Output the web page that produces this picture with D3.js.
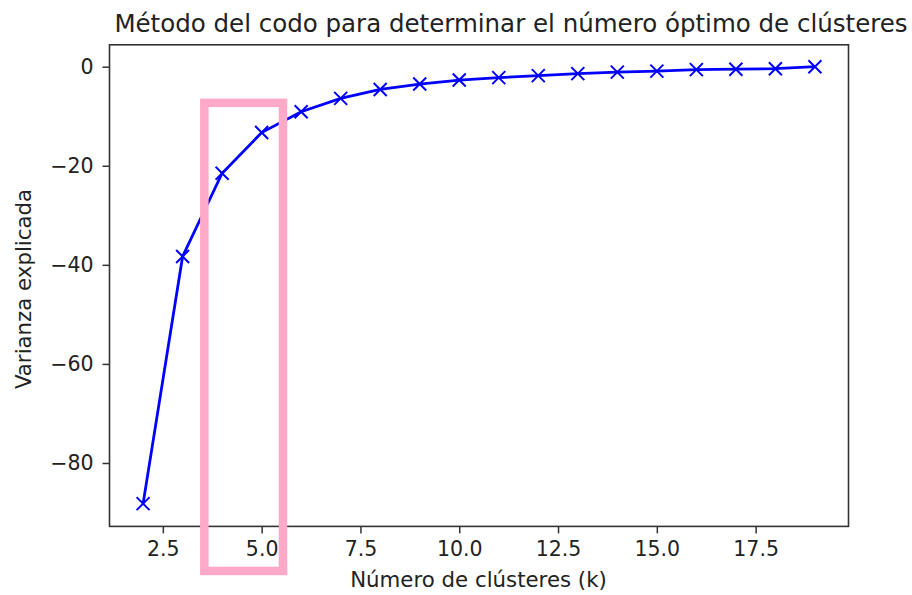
<!DOCTYPE html>
<html><head><meta charset="utf-8">
<script src="https://cdn.jsdelivr.net/npm/d3@7"></script>
<style>body{margin:0;background:#fff}svg{display:block}text{font-family:"DejaVu Sans",sans-serif;fill:#222}</style>
</head><body><svg id="c" width="912" height="595"></svg>
<script>
const ks = [2,3,4,5,6,7,8,9,10,11,12,13,14,15,16,17,18,19];
const varianza = [-88.2,-38.3,-21.5,-13.3,-9.1,-6.4,-4.6,-3.5,-2.7,-2.2,-1.8,-1.4,-1.1,-0.9,-0.6,-0.5,-0.4,0.0];
const xTicks = [2.5,5.0,7.5,10.0,12.5,15.0,17.5];
const yTicks = [0,-20,-40,-60,-80];
const titleText = "Método del codo para determinar el número óptimo de clústeres";
const xLabel = "Número de clústeres (k)";
const yLabel = "Varianza explicada";
const highlightK = [3.55, 5.54];
const highlightY = [-7.3, -101.8];

const svg = d3.select("#c");
const L=109.5,R=848.5,T=44.8,B=526.4;
const x = d3.scaleLinear().domain([1.15,19.85]).range([L,R]);
const y = d3.scaleLinear().domain([-92.8,4.42]).range([B,T]);

// axes
const gx = svg.append("g").attr("transform",`translate(0,${B})`)
  .call(d3.axisBottom(x).tickValues(xTicks).tickFormat(d3.format(".1f")).tickSize(7).tickPadding(8));
const gy = svg.append("g").attr("transform",`translate(${L},0)`)
  .call(d3.axisLeft(y).tickValues(yTicks).tickFormat(d=>d===0?"0":"\u2212"+Math.abs(d)).tickSize(7).tickPadding(9));
[gx,gy].forEach(g=>{
  g.select(".domain").remove();
  g.selectAll(".tick line").attr("stroke","#333").attr("stroke-width",1.5);
  g.selectAll(".tick text").style("font-size","20.5px").style("font-family","DejaVu Sans").attr("fill","#222");
});
svg.append("rect").attr("x",L).attr("y",T).attr("width",R-L).attr("height",B-T)
  .attr("fill","none").attr("stroke","#333").attr("stroke-width",1.6);

// line
const line = d3.line().x((d,i)=>x(ks[i])).y(d=>y(d));
svg.append("path").datum(varianza).attr("d",line).attr("fill","none")
  .attr("stroke","#0000ff").attr("stroke-width",2.8);
const m=6.5;
svg.append("g").selectAll("path").data(varianza).join("path")
  .attr("d",(d,i)=>{const cx=x(ks[i]),cy=y(d);return `M${cx-m},${cy-m}L${cx+m},${cy+m}M${cx-m},${cy+m}L${cx+m},${cy-m}`;})
  .attr("stroke","#0000ff").attr("stroke-width",2).attr("fill","none");

// highlight box
svg.append("rect").attr("x",x(highlightK[0])).attr("y",y(highlightY[0]))
  .attr("width",x(highlightK[1])-x(highlightK[0])).attr("height",y(highlightY[1])-y(highlightY[0]))
  .attr("fill","none").attr("stroke","#ffa9c8").attr("stroke-width",8.5);

// labels
svg.append("text").attr("x",511).attr("y",31.5).attr("text-anchor","middle").style("font-size","24.5px").text(titleText);
svg.append("text").attr("x",478.5).attr("y",587).attr("text-anchor","middle").style("font-size","21.3px").text(xLabel);
svg.append("text").attr("transform","translate(31,289) rotate(-90)").attr("text-anchor","middle").style("font-size","21.3px").text(yLabel);
</script></body></html>
